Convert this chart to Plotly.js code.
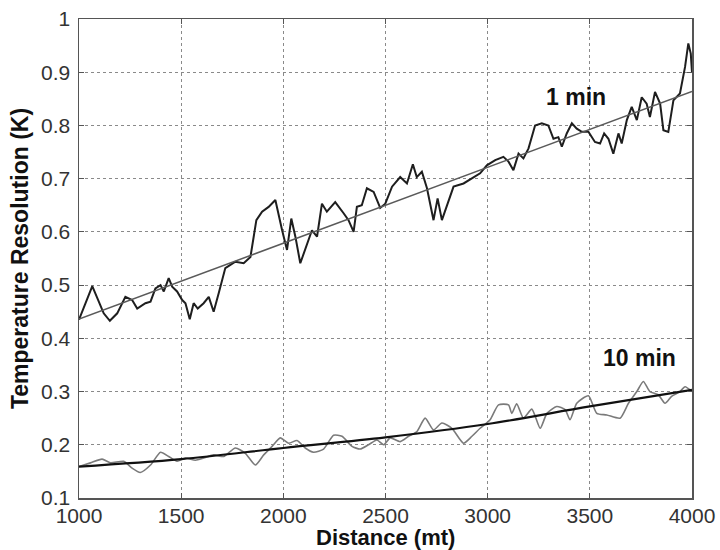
<!DOCTYPE html>
<html>
<head>
<meta charset="utf-8">
<script src="https://cdn.plot.ly/plotly-3.0.1.min.js"></script>
<style>html,body{margin:0;padding:0;background:#fff;}#chart{width:720px;height:550px;}</style>
</head>
<body>
<div id="chart"></div>
<script>
// 1 min measurement (noisy trace)
const dist1 = [1000,1065,1121,1151,1187,1227,1260,1285,1325,1350,1374,1399,1415,1439,1456,1480,1505,1521,1542,1561,1581,1610,1635,1659,1684,1716,1741,1765,1806,1839,1868,1896,1928,1961,1994,2018,2039,2059,2083,2116,2140,2165,2189,2213,2254,2295,2319,2344,2360,2384,2409,2442,2474,2499,2532,2572,2605,2634,2653,2678,2703,2735,2755,2776,2800,2833,2882,2923,2963,2996,3037,3077,3102,3126,3151,3175,3200,3232,3265,3297,3322,3346,3363,3387,3412,3436,3461,3493,3525,3550,3570,3591,3615,3640,3656,3681,3705,3730,3754,3778,3794,3819,3844,3860,3884,3909,3941,3966,3982,3994,4000];
const res1 = [0.435,0.498,0.447,0.433,0.447,0.478,0.472,0.456,0.466,0.469,0.494,0.500,0.488,0.513,0.497,0.488,0.472,0.466,0.436,0.466,0.456,0.466,0.478,0.450,0.485,0.532,0.538,0.544,0.541,0.553,0.622,0.638,0.647,0.660,0.603,0.566,0.625,0.591,0.541,0.578,0.603,0.591,0.653,0.638,0.656,0.635,0.622,0.600,0.647,0.650,0.682,0.675,0.645,0.653,0.685,0.703,0.691,0.727,0.703,0.713,0.682,0.622,0.663,0.622,0.647,0.685,0.691,0.700,0.710,0.725,0.735,0.741,0.732,0.716,0.747,0.738,0.757,0.800,0.804,0.800,0.775,0.778,0.760,0.785,0.804,0.794,0.788,0.788,0.769,0.766,0.785,0.775,0.747,0.785,0.766,0.810,0.835,0.810,0.853,0.841,0.816,0.863,0.841,0.791,0.788,0.847,0.860,0.910,0.954,0.935,0.900];

// 1 min linear fit
const fitDist1 = [1000,4000];
const fitRes1 = [0.436,0.864];

// 10 min measurement (noisy trace)
const dist10 = [1000,1056,1113,1154,1219,1260,1300,1350,1399,1439,1480,1521,1570,1610,1659,1708,1765,1814,1863,1904,1945,1985,2026,2067,2107,2148,2197,2246,2287,2336,2376,2417,2458,2491,2523,2572,2613,2654,2694,2735,2776,2825,2882,2923,2963,3012,3053,3102,3118,3142,3175,3216,3257,3290,3338,3379,3403,3436,3493,3534,3583,3648,3689,3730,3762,3794,3835,3868,3900,3941,3966,4000];
const res10 = [0.159,0.166,0.173,0.166,0.169,0.156,0.148,0.162,0.186,0.178,0.169,0.175,0.171,0.175,0.181,0.178,0.194,0.184,0.162,0.181,0.197,0.213,0.203,0.208,0.194,0.186,0.192,0.218,0.216,0.197,0.192,0.200,0.209,0.200,0.213,0.206,0.216,0.225,0.250,0.228,0.241,0.231,0.203,0.216,0.231,0.247,0.275,0.275,0.259,0.277,0.250,0.267,0.231,0.259,0.272,0.266,0.247,0.278,0.292,0.259,0.256,0.250,0.278,0.300,0.319,0.300,0.294,0.278,0.291,0.300,0.309,0.300];

// 10 min fit curve
const fitDist10 = [1000,1500,2000,2500,3000,3500,4000];
const fitRes10 = [0.159,0.173,0.194,0.214,0.239,0.272,0.303];

const xTicks = [1000,1500,2000,2500,3000,3500,4000];
const yTicks = [0.1,0.2,0.3,0.4,0.5,0.6,0.7,0.8,0.9,1];

const labelTexts = ['1 min','10 min'];
const labelX = [3433,3743];
const labelY = [0.853,0.363];
const xTitle = 'Distance (mt)';
const yTitle = 'Temperature Resolution (K)';

const traces = [
  {x: dist1, y: res1, mode:'lines', line:{color:'#1e1e1e', width:2}, hoverinfo:'skip'},
  {x: fitDist1, y: fitRes1, mode:'lines', line:{color:'#5a5a5a', width:1.5}, hoverinfo:'skip'},
  {x: dist10, y: res10, mode:'lines', line:{color:'#7a7a7a', width:1.6, shape:'spline', smoothing:0.6}, hoverinfo:'skip'},
  {x: fitDist10, y: fitRes10, mode:'lines', line:{color:'#111', width:2.2, shape:'spline'}, hoverinfo:'skip'}
];

const fontFam = 'Liberation Sans, Arial, Helvetica, sans-serif';
const annos = labelTexts.map((t,i)=>({
  x:labelX[i], y:labelY[i], xref:'x', yref:'y', text:'<b>'+t+'</b>', showarrow:false,
  font:{size:23, color:'#111', family:fontFam}
}));
annos.push({
  x:0.5, y:0, xref:'paper', yref:'paper', xanchor:'center', yanchor:'top', yshift:-26,
  text:'<b>'+xTitle+'</b>', showarrow:false, borderpad:0, font:{size:22, color:'#111', family:fontFam}
});

const layout = {
  width:720, height:550,
  margin:{l:78.5, r:28, t:18.6, b:51.7, pad:0},
  paper_bgcolor:'#fff', plot_bgcolor:'#fff',
  showlegend:false,
  font:{family:fontFam, color:'#222'},
  xaxis:{
    range:[1000,4000], tickvals:xTicks, ticktext:xTicks.map(String),
    showgrid:true, gridcolor:'#8a8a8a', griddash:'dot', gridwidth:1,
    zeroline:false, showline:true, linecolor:'#555', linewidth:1.5, mirror:'ticks',
    ticks:'inside', ticklen:5, tickcolor:'#555', ticklabelstandoff:-2,
    tickfont:{size:21, color:'#333', family:fontFam}
  },
  yaxis:{
    range:[0.1,1], tickvals:yTicks, ticktext:yTicks.map(String),
    showgrid:true, gridcolor:'#8a8a8a', griddash:'dot', gridwidth:1,
    zeroline:false, showline:true, linecolor:'#555', linewidth:1.5, mirror:'ticks',
    ticks:'inside', ticklen:5, tickcolor:'#555', ticklabelstandoff:3,
    tickfont:{size:21, color:'#333', family:fontFam},
    title:{text:'<b>'+yTitle+'</b>', font:{size:23, color:'#111', family:fontFam}, standoff:6}
  },
  annotations: annos
};

Plotly.newPlot('chart', traces, layout, {staticPlot:true, displayModeBar:false});
</script>
</body>
</html>
